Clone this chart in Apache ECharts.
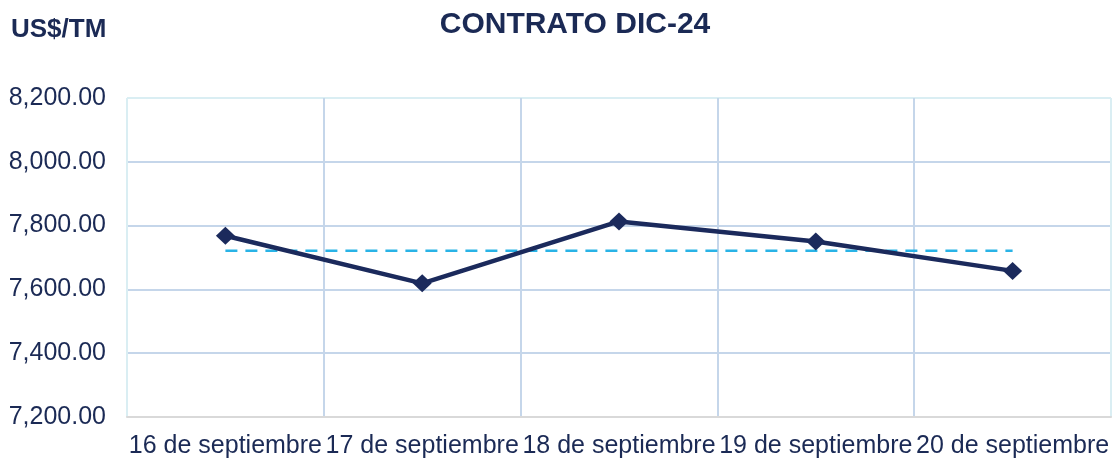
<!DOCTYPE html>
<html>
<head>
<meta charset="utf-8">
<script src="https://cdn.jsdelivr.net/npm/echarts@6/dist/echarts.min.js"></script>
<style>
html,body{margin:0;padding:0;background:#fff;}
#c{width:1113px;height:460px;}
</style>
</head>
<body>
<div id="c"></div>
<script>
var categories = ['16 de septiembre', '17 de septiembre', '18 de septiembre', '19 de septiembre', '20 de septiembre'];
var prices = [7768, 7619, 7813, 7750, 7658];
var average = [7721, 7721, 7721, 7721, 7721];
var unitLabel = 'US$/TM';
var titleText = 'CONTRATO DIC-24';

var navy = '#1B2A55';
var chart = echarts.init(document.getElementById('c'), null, {renderer: 'canvas'});
chart.setOption({
  animation: false,
  backgroundColor: '#ffffff',
  textStyle: {fontFamily: 'Liberation Sans, Arial, sans-serif'},
  graphic: [
    {type: 'text', left: 11, top: 17, style: {text: unitLabel, fontSize: 26, fontWeight: 'bold', fill: navy, fontFamily: 'Liberation Sans'}},
    {type: 'text', x: 575, y: 25, style: {text: titleText, fontSize: 30, fontWeight: 'bold', fill: navy, fontFamily: 'Liberation Sans', align: 'center', verticalAlign: 'middle'}}
  ],
  grid: {left: 127, right: 2, top: 98, bottom: 43, containLabel: false},
  xAxis: {
    type: 'category',
    data: categories,
    boundaryGap: true,
    axisLine: {show: true, lineStyle: {color: '#D9D9D9', width: 2}},
    axisTick: {show: false},
    axisLabel: {color: navy, fontSize: 25, margin: 17, interval: 0, fontFamily: 'Liberation Sans'},
    splitLine: {show: true, lineStyle: {color: ['#DAEEF3', '#C5D6EA', '#C5D6EA', '#C5D6EA', '#C5D6EA'], width: 2}}
  },
  yAxis: {
    type: 'value',
    min: 7200,
    max: 8200,
    interval: 200,
    axisLine: {show: false},
    axisTick: {show: false},
    axisLabel: {
      color: navy, fontSize: 25, margin: 21, fontFamily: 'Liberation Sans',
      formatter: function (v) { return v.toLocaleString('en-US', {minimumFractionDigits: 2, maximumFractionDigits: 2}); }
    },
    splitLine: {show: true, lineStyle: {color: ['#DAEEF3', '#C5D6EA', '#C5D6EA', '#C5D6EA', '#C5D6EA'], width: 2}}
  },
  series: [
    {
      name: 'Promedio',
      type: 'line',
      data: average,
      symbol: 'none',
      lineStyle: {color: '#29B3E6', width: 2.5, type: [12, 8]},
      z: 2
    },
    {
      name: 'Precio',
      type: 'line',
      data: prices,
      symbol: 'diamond',
      symbolSize: [19, 18],
      showAllSymbol: true,
      itemStyle: {color: '#1B2A5C'},
      lineStyle: {color: '#1B2A5C', width: 4.5},
      z: 3
    }
  ]
});
</script>
</body>
</html>
